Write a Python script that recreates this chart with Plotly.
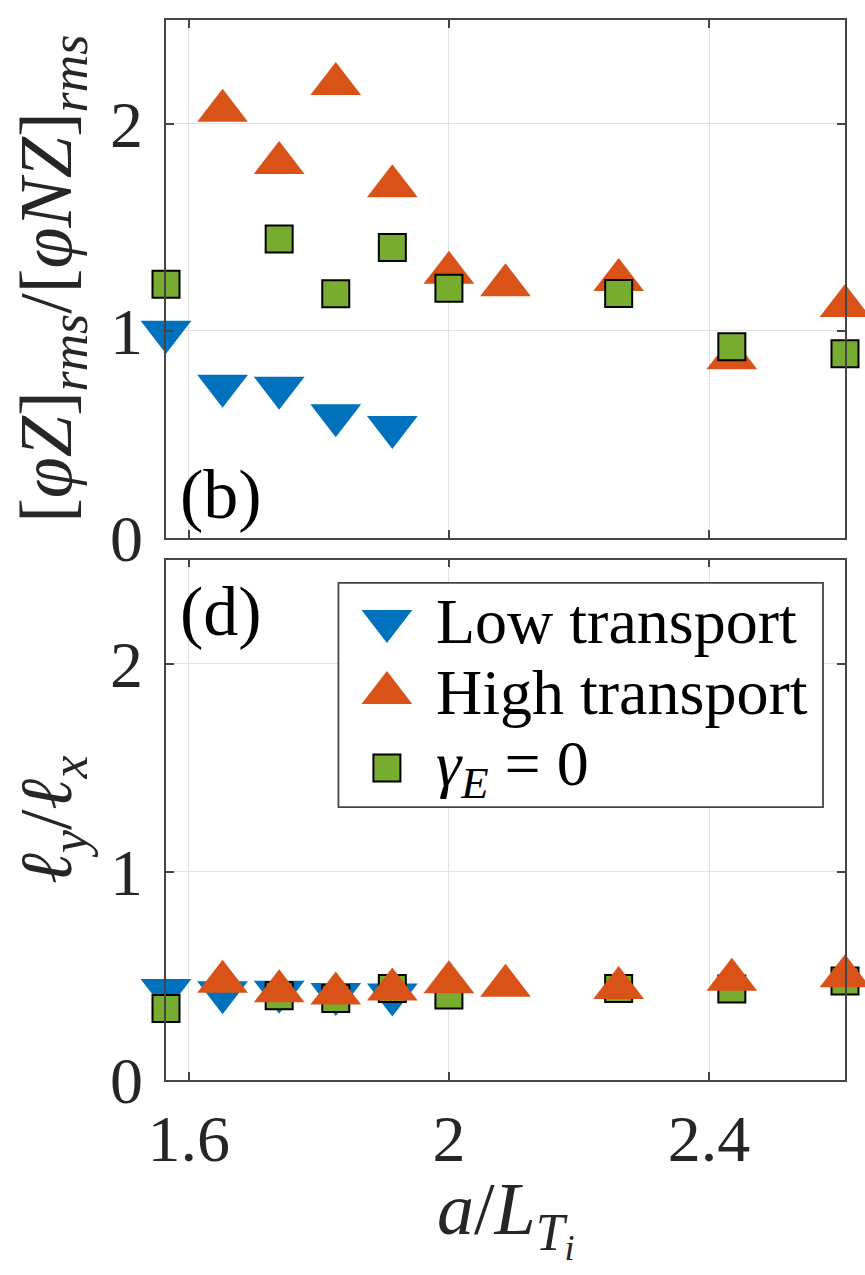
import plotly.graph_objects as go

# a/L_Ti values of the scan
x_low = [1.565, 1.652, 1.739, 1.826, 1.913]
x_high = [1.652, 1.739, 1.826, 1.913, 2.000, 2.087, 2.261, 2.435, 2.609]
x_ge0 = [1.565, 1.739, 1.826, 1.913, 2.000, 2.261, 2.435, 2.609]

# panel (b): zonal / non-zonal potential rms ratio
zf_low = [0.995, 0.734, 0.724, 0.591, 0.534]
zf_high = [2.062, 1.810, 2.191, 1.697, 1.279, 1.219, 1.245, 0.866, 1.119]
zf_ge0 = [1.224, 1.443, 1.178, 1.402, 1.205, 1.179, 0.922, 0.888]

# panel (d): eddy aspect ratio l_y / l_x
ar_low = [0.432, 0.421, 0.424, 0.413, 0.411]
ar_high = [0.472, 0.426, 0.416, 0.435, 0.469, 0.453, 0.442, 0.482, 0.498]
ar_ge0 = [0.343, 0.405, 0.392, 0.440, 0.408, 0.440, 0.437, 0.475]

series_names = ["Low transport", "High transport", "<i>γ<sub>E</sub></i> = 0"]
x_ticks = [1.6, 2.0, 2.4]
x_tick_text = ["1.6", "2", "2.4"]
y_ticks = [0, 1, 2]

BLUE = "#0072BD"
ORANGE = "#D95319"
GREEN = "#77AC30"
AXC = "#454545"
GRID = "#e2e2e2"
FONT = "Liberation Serif"
TRI = 44
SQ = 27

styles = {
    "low": dict(symbol="triangle-down", size=TRI, color=BLUE, line=dict(width=0)),
    "high": dict(symbol="triangle-up", size=TRI, color=ORANGE, line=dict(width=0)),
    "ge0": dict(symbol="square", size=SQ, color=GREEN, line=dict(width=2, color="black")),
}


def pts(x, y, key, xa, ya):
    return go.Scatter(x=x, y=y, mode="markers", marker=styles[key], xaxis=xa, yaxis=ya,
                      cliponaxis=False, showlegend=False, hoverinfo="skip")


fig = go.Figure()
# panel (b)
fig.add_trace(pts(x_low, zf_low, "low", "x", "y"))
fig.add_trace(pts(x_high, zf_high, "high", "x", "y"))
fig.add_trace(pts(x_ge0, zf_ge0, "ge0", "x", "y"))
# panel (d)
fig.add_trace(pts(x_low, ar_low, "low", "x2", "y2"))
fig.add_trace(pts(x_ge0, ar_ge0, "ge0", "x2", "y2"))
fig.add_trace(pts(x_high, ar_high, "high", "x2", "y2"))

# legend: white panel on its own small axes, keys and labels on top
fig.add_trace(go.Scatter(x=[0, 1, 1, 0, 0], y=[0, 0, 1, 1, 0], mode="lines",
                         fill="toself", fillcolor="white", line=dict(width=0),
                         xaxis="x3", yaxis="y3", showlegend=False, hoverinfo="skip"))
leg_rows = [0.83, 0.509, 0.174]
for key, row in zip(["low", "high", "ge0"], leg_rows):
    fig.add_trace(go.Scatter(x=[0.1], y=[row], mode="markers", marker=styles[key],
                             xaxis="x3", yaxis="y3", cliponaxis=False,
                             showlegend=False, hoverinfo="skip"))

xrange = [1.565, 2.609]
common_x = dict(range=xrange, tickvals=x_ticks, ticktext=x_tick_text, ticks="inside",
                ticklen=8, tickcolor=AXC, tickwidth=1.5, showline=True, linecolor=AXC,
                linewidth=1.8, mirror="ticks", showgrid=True, gridcolor=GRID, gridwidth=1,
                zeroline=False, tickfont=dict(family=FONT, size=66, color="#262626"))
common_y = dict(range=[0, 2.5], tickvals=y_ticks, ticks="inside", ticklen=8,
                tickcolor=AXC, tickwidth=1.5, showline=True, linecolor=AXC, linewidth=1.8,
                mirror="ticks", showgrid=True, gridcolor=GRID, gridwidth=1, zeroline=False,
                tickfont=dict(family=FONT, size=66, color="#262626"), ticklabelstandoff=8)

fig.update_layout(
    width=865, height=1275,
    margin=dict(l=166, r=20, t=20, b=195),
    paper_bgcolor="white", plot_bgcolor="white",
    showlegend=False,
    xaxis=dict(common_x, domain=[0, 1], anchor="y", showticklabels=False),
    yaxis=dict(common_y, domain=[0.5116, 1], anchor="x"),
    xaxis2=dict(common_x, domain=[0, 1], anchor="y2", ticklabelstandoff=0),
    yaxis2=dict(common_y, domain=[0, 0.491], anchor="x2"),
    xaxis3=dict(domain=[0.254, 0.9676], range=[0, 1], visible=False, anchor="y3",
                fixedrange=True),
    yaxis3=dict(domain=[0.2575, 0.4689], range=[0, 1], visible=False, anchor="x3",
                fixedrange=True),
)

# legend frame
fig.add_shape(type="rect", xref="x3 domain", yref="y3 domain", x0=0, x1=1, y0=0, y1=1,
              line=dict(color=AXC, width=1.8), layer="above")

for name, row in zip(series_names, leg_rows):
    fig.add_annotation(text=name, xref="x3 domain", yref="y3", x=0.197, y=row,
                       xanchor="left", yanchor="middle", showarrow=False,
                       font=dict(family=FONT, size=64, color="black"))

# panel tags
fig.add_annotation(text="(b)", xref="x domain", yref="y domain", x=0.018, y=0.084,
                   xanchor="left", yanchor="middle", showarrow=False,
                   font=dict(family=FONT, size=70, color="black"))
fig.add_annotation(text="(d)", xref="x2 domain", yref="y2 domain", x=0.018, y=0.901,
                   xanchor="left", yanchor="middle", showarrow=False,
                   font=dict(family=FONT, size=70, color="black"))

# axis titles
fig.add_annotation(text="[<i>φZ</i>]<sub><i>rms</i></sub>/[<i>φNZ</i>]<sub><i>rms</i></sub>",
                   xref="paper", yref="y domain", x=(52 - 166) / 679, y=0.5,
                   xanchor="center", yanchor="middle", textangle=-90, showarrow=False,
                   font=dict(family=FONT, size=74, color="#262626"))
fig.add_annotation(text="<i>ℓ</i><sub><i>y</i></sub>/<i>ℓ</i><sub><i>x</i></sub>",
                   xref="paper", yref="y2 domain", x=(52 - 166) / 679, y=0.5,
                   xanchor="center", yanchor="middle", textangle=-90, showarrow=False,
                   font=dict(family=FONT, size=74, color="#262626"))
fig.add_annotation(text="<i>a</i>/<i>L</i><sub><i>T<sub>i</sub></i></sub>",
                   xref="x2 domain", yref="paper", x=0.5, y=(1080 - 1218) / 1060,
                   xanchor="center", yanchor="middle", showarrow=False,
                   font=dict(family=FONT, size=74, color="#262626"))

fig.write_html("out.html")
